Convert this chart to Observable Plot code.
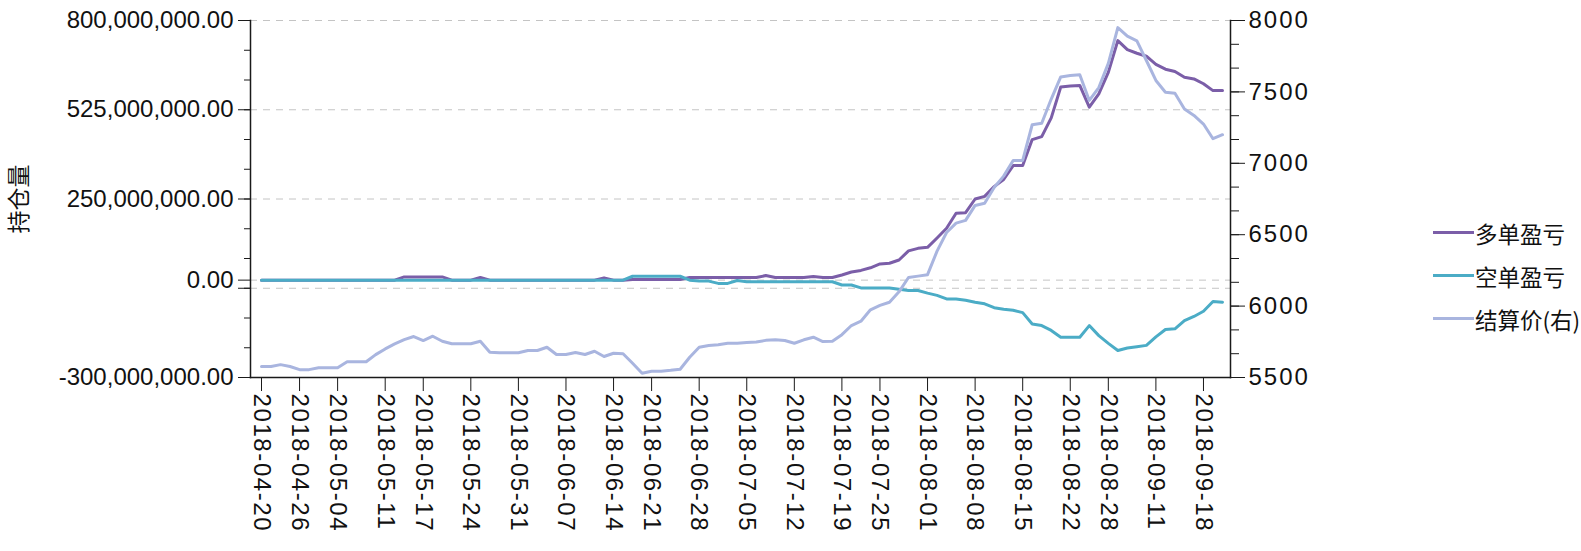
<!DOCTYPE html>
<html>
<head>
<meta charset="utf-8">
<script src="https://cdn.jsdelivr.net/npm/d3@7"></script>
<script src="https://cdn.jsdelivr.net/npm/@observablehq/plot@0.6"></script>
<style>
  body { margin: 0; background: #fff; }
  #wrap { position: relative; width: 1581px; height: 551px; }
  #wrap svg g[aria-label="x-axis tick label"] { letter-spacing: 1.6px; }
  #wrap svg g[aria-label="y-axis tick label"][text-anchor="start"] { letter-spacing: 2px; }
  #wrap svg g[aria-label="y-axis label"] { font-family: "Noto Sans CJK SC", sans-serif; font-size: 23px; }
  .legend { position: absolute; left: 1433px; top: 211px; font-family: "Noto Sans CJK SC", sans-serif; font-size: 22.5px; color: #111; }
  .legend .item { height: 43px; display: flex; align-items: center; white-space: nowrap; }
  .legend .sw { display: inline-block; width: 41px; height: 3px; margin-right: 1px; }
</style>
</head>
<body>
<div id="wrap"></div>
<script>
// ---- data ----
const dates = [
  "2018-04-20","2018-04-23","2018-04-24","2018-04-25","2018-04-26","2018-04-27",
  "2018-05-02","2018-05-03","2018-05-04","2018-05-07","2018-05-08","2018-05-09","2018-05-10","2018-05-11",
  "2018-05-14","2018-05-15","2018-05-16","2018-05-17","2018-05-18",
  "2018-05-21","2018-05-22","2018-05-23","2018-05-24","2018-05-25",
  "2018-05-28","2018-05-29","2018-05-30","2018-05-31","2018-06-01",
  "2018-06-04","2018-06-05","2018-06-06","2018-06-07","2018-06-08",
  "2018-06-11","2018-06-12","2018-06-13","2018-06-14","2018-06-15",
  "2018-06-19","2018-06-20","2018-06-21","2018-06-22",
  "2018-06-25","2018-06-26","2018-06-27","2018-06-28","2018-06-29",
  "2018-07-02","2018-07-03","2018-07-04","2018-07-05","2018-07-06",
  "2018-07-09","2018-07-10","2018-07-11","2018-07-12","2018-07-13",
  "2018-07-16","2018-07-17","2018-07-18","2018-07-19","2018-07-20",
  "2018-07-23","2018-07-24","2018-07-25","2018-07-26","2018-07-27",
  "2018-07-30","2018-07-31","2018-08-01","2018-08-02","2018-08-03",
  "2018-08-06","2018-08-07","2018-08-08","2018-08-09","2018-08-10",
  "2018-08-13","2018-08-14","2018-08-15","2018-08-16","2018-08-17",
  "2018-08-20","2018-08-21","2018-08-22","2018-08-23","2018-08-24",
  "2018-08-27","2018-08-28","2018-08-29","2018-08-30","2018-08-31",
  "2018-09-10","2018-09-11","2018-09-12","2018-09-13","2018-09-14",
  "2018-09-17","2018-09-18","2018-09-19","2018-09-20"
];

// 多单盈亏 (millions)
const longPnL = [
  0,0,0,0,0,0,0,0,0,0,0,0,0,0,0,
  10,10,10,10,10,
  0,0,0,
  8,
  0,0,0,0,0,0,0,0,0,0,0,0,
  7,
  0,0,
  2,2,2,2,2,2,
  8,
  8,8,8,8,8,8,8,
  14,
  8,8,8,8,
  11,
  8,8,
  16,25,30,38,50,52,62,90,98,101,
  130,160,206,208,250,258,288,310,353,353,
  433,442,500,595,598,600,533,574,640,738,
  710,699,690,665,650,643,625,620,605,584,584
];

// 空单盈亏 (millions)
const shortPnL = [
  0,0,0,0,0,0,0,0,0,0,0,0,0,0,0,0,0,0,0,0,
  0,0,0,0,0,0,0,0,0,0,0,0,0,0,0,0,0,0,0,
  12,12,12,12,12,12,
  0,-3,-3,-10,-10,-1,-5,
  -5,-5,-5,-5,-5,-5,-5,-5,-5,
  -15,-15,-24,-24,-24,-24,-28,-32,-32,-40,
  -47,-58,-58,-62,-68,-73,-85,-90,-93,-100,
  -135,-140,-155,-176,-176,-176,-140,-171,-195,-217,
  -209,-205,-201,-175,-152,-150,-125,-112,-96,-66,-68
];

// 结算价 (right axis)
const settle = [
  5577,5577,5590,5577,5555,5555,5568,5568,5568,5610,
  5610,5610,5660,5700,5735,5765,5787,5759,5789,5754,
  5736,5736,5736,5754,5677,5673,5673,5673,5689,5689,
  5712,5661,5661,5675,5661,5684,5647,5670,5666,5600,
  5530,5544,5544,5550,5558,5642,5712,5724,5730,5740,
  5740,5745,5748,5760,5764,5759,5740,5764,5782,5752,
  5754,5800,5864,5894,5974,6005,6027,6100,6200,6210,
  6220,6385,6515,6581,6600,6705,6720,6830,6910,7020,
  7020,7270,7280,7450,7605,7615,7620,7440,7530,7700,
  7950,7890,7858,7720,7580,7498,7490,7380,7335,7275,
  7172,7200
];

const seriesNames = ["多单盈亏", "空单盈亏", "结算价(右)"];
const seriesColors = ["#7b5ea8", "#4bacc6", "#a9b5df"];

const xTicks = ["2018-04-20","2018-04-26","2018-05-04","2018-05-11","2018-05-17","2018-05-24","2018-05-31",
  "2018-06-07","2018-06-14","2018-06-21","2018-06-28","2018-07-05","2018-07-12","2018-07-19","2018-07-25",
  "2018-08-01","2018-08-08","2018-08-15","2018-08-22","2018-08-28","2018-09-11","2018-09-18"];
const leftLabelTicks = [800, 525, 250, 0, -300];   // millions
const leftExtraTicks = [-25];                      // millions (unlabelled major)
const gridTicks = [800, 525, 250, 0, -25];         // millions
const rightLabelTicks = [5500, 6000, 6500, 7000, 7500, 8000];
const leftDomain = [-300, 800];                    // millions
const rightDomain = [5500, 8000];

// ---- build ----
const M = 1e6;
const L0 = leftDomain[0] * M, L1 = leftDomain[1] * M;
const R0 = rightDomain[0], R1 = rightDomain[1];
const toLeft = p => L0 + (p - R0) / (R1 - R0) * (L1 - L0);
const toRight = v => R0 + (v - L0) / (L1 - L0) * (R1 - R0);
const fmtLeft = d3.formatLocale({decimal: ".", thousands: ",", grouping: [3], currency: ["", ""], minus: "-"}).format(",.2f");

const rows = dates.map((d, i) => ({date: d, long: longPnL[i] * M, short: shortPnL[i] * M, settle: settle[i]}));
const minorLeft = d3.range(13).map(k => L0 + k * (L1 - L0) / 12);
const minorRight = d3.range(16).map(k => toLeft(R0 + k * (R1 - R0) / 15));
const axisStroke = "#1a1a1a";

const chart = Plot.plot({
  width: 1581, height: 551,
  marginLeft: 250, marginRight: 351, marginTop: 20, marginBottom: 174,
  style: {fontFamily: "'Liberation Sans', Arial, sans-serif", fontSize: "24px", color: "#111", background: "#fff", overflow: "visible"},
  x: {type: "point", domain: dates, padding: 0, insetLeft: 11, insetRight: 8},
  y: {domain: [L0, L1]},
  marks: [
    Plot.ruleY(gridTicks.map(v => v * M), {stroke: "#c4c4c4", strokeWidth: 1, strokeDasharray: "7,6"}),
    Plot.line(rows, {x: "date", y: "long", stroke: seriesColors[0], strokeWidth: 3}),
    Plot.line(rows, {x: "date", y: "short", stroke: seriesColors[1], strokeWidth: 3}),
    Plot.line(rows, {x: "date", y: d => toLeft(d.settle), stroke: seriesColors[2], strokeWidth: 3}),
    Plot.frame({anchor: "left", stroke: axisStroke, strokeWidth: 1.5}),
    Plot.frame({anchor: "right", stroke: axisStroke, strokeWidth: 1.5}),
    Plot.frame({anchor: "bottom", stroke: axisStroke, strokeWidth: 1.5}),
    Plot.axisX(xTicks, {anchor: "bottom", tickSize: 14, tickPadding: 2, tickRotate: 90, label: null, stroke: axisStroke}),
    Plot.axisY(leftLabelTicks.map(v => v * M), {anchor: "left", tickSize: 12, tickPadding: 5, tickFormat: fmtLeft, stroke: axisStroke,
      label: "持仓量", labelAnchor: "center", labelOffset: 240, labelArrow: "none"}),
    Plot.axisY(leftExtraTicks.map(v => v * M), {anchor: "left", tickSize: 12, tickFormat: () => "", label: null, stroke: axisStroke}),
    Plot.axisY(minorLeft, {anchor: "left", tickSize: 6, tickFormat: () => "", label: null, stroke: axisStroke}),
    Plot.axisY(rightLabelTicks.map(toLeft), {anchor: "right", tickSize: 14, tickPadding: 4, tickFormat: v => String(Math.round(toRight(v))), label: null, stroke: axisStroke}),
    Plot.axisY(minorRight, {anchor: "right", tickSize: 8, tickFormat: () => "", label: null, stroke: axisStroke})
  ]
});

const wrap = document.getElementById("wrap");
wrap.appendChild(chart);

const legend = document.createElement("div");
legend.className = "legend";
seriesNames.forEach((name, i) => {
  const item = document.createElement("div");
  item.className = "item";
  const sw = document.createElement("span");
  sw.className = "sw";
  sw.style.background = seriesColors[i];
  item.appendChild(sw);
  item.appendChild(document.createTextNode(name));
  legend.appendChild(item);
});
wrap.appendChild(legend);
</script>
</body>
</html>
